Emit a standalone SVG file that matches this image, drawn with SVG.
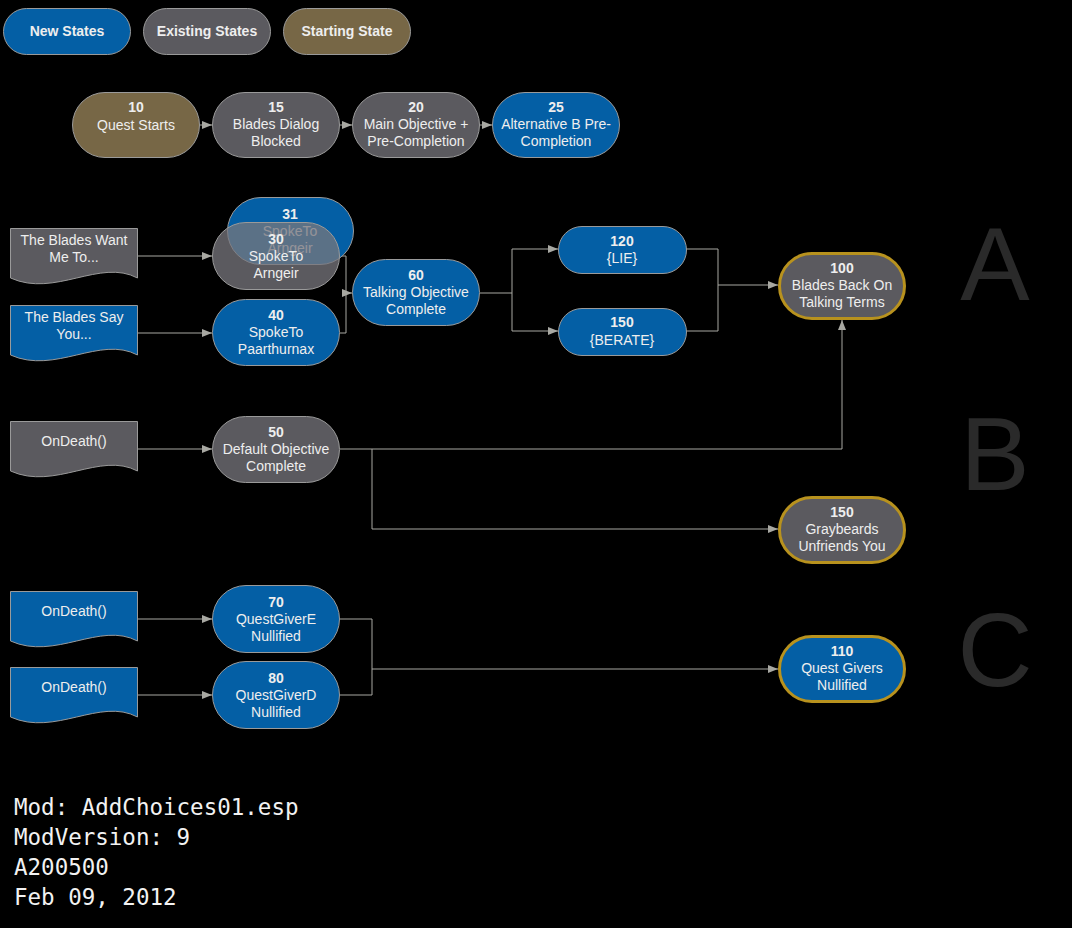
<svg xmlns="http://www.w3.org/2000/svg" width="1072" height="928" viewBox="0 0 1072 928">
<style>
.bg{fill:#000}
.blue{fill:#045FA5;stroke:#9A9A9A;stroke-width:1}
.gray{fill:#5B5A5F;stroke:#9A9A9A;stroke-width:1}
.brown{fill:#776746;stroke:#9A9A9A;stroke-width:1}
.gold{stroke:#B8921E;stroke-width:3}
.t{font-family:"Liberation Sans",Arial,sans-serif;font-size:14px;fill:#EEEEEE;text-anchor:middle}
.b{font-weight:bold}
.conn{fill:none;stroke:#A8A8A2;stroke-width:1}
.big{font-family:"Liberation Sans",Arial,sans-serif;font-size:104px;fill:#2A2A2A;text-anchor:middle}
.mono{font-family:"DejaVu Sans Mono","Liberation Mono",monospace;font-size:22.5px;fill:#F2F2F2}
</style>
<defs>
<marker id="arr" viewBox="0 0 10 8" refX="10" refY="4" markerWidth="10" markerHeight="8" markerUnits="userSpaceOnUse" orient="auto">
<path d="M0,0 L10,4 L0,8 Z" fill="#A8A8A2"/>
</marker>
</defs>
<rect class="bg" x="0" y="0" width="1072" height="928"/>

<g id="legend">
<g id="legend-new"><rect class="blue" x="3.5" y="8.5" width="127" height="46" rx="23"/><text class="t b" x="67" y="36">New States</text></g>
<g id="legend-existing"><rect class="gray" x="143.5" y="8.5" width="127" height="46" rx="23"/><text class="t b" x="207" y="36">Existing States</text></g>
<g id="legend-starting"><rect class="brown" x="283.5" y="8.5" width="127" height="46" rx="23"/><text class="t b" x="347" y="36">Starting State</text></g>
</g>

<g id="connectors">
<path class="conn" d="M200,125 H212" marker-end="url(#arr)"/>
<path class="conn" d="M340,125 H352" marker-end="url(#arr)"/>
<path class="conn" d="M480,125 H492" marker-end="url(#arr)"/>
<path class="conn" d="M138,256 H212" marker-end="url(#arr)"/>
<path class="conn" d="M138,333 H212" marker-end="url(#arr)"/>
<path class="conn" d="M340,256 H346 V293 H352" marker-end="url(#arr)"/>
<path class="conn" d="M340,333 H346 V293"/>
<path class="conn" d="M480,293 H512 V249 H558" marker-end="url(#arr)"/>
<path class="conn" d="M512,293 V331 H558" marker-end="url(#arr)"/>
<path class="conn" d="M686,249 H718 V285 H778" marker-end="url(#arr)"/>
<path class="conn" d="M686,331 H718 V285"/>
<path class="conn" d="M138,449 H212" marker-end="url(#arr)"/>
<path class="conn" d="M340,449 H842 V320" marker-end="url(#arr)"/>
<path class="conn" d="M372,449 V529 H778" marker-end="url(#arr)"/>
<path class="conn" d="M138,619 H212" marker-end="url(#arr)"/>
<path class="conn" d="M138,695 H212" marker-end="url(#arr)"/>
<path class="conn" d="M340,619 H372 V669 H778" marker-end="url(#arr)"/>
<path class="conn" d="M340,695 H372 V669"/>
</g>

<g id="n10"><rect class="brown" x="72.5" y="92.5" width="127" height="65" rx="32.5"/><text class="t b" x="136" y="112">10</text><text class="t" x="136" y="130">Quest Starts</text></g>
<g id="n15"><rect class="gray" x="212.5" y="92.5" width="127" height="65" rx="32.5"/><text class="t b" x="276" y="112">15</text><text class="t" x="276" y="129">Blades Dialog</text><text class="t" x="276" y="146">Blocked</text></g>
<g id="n20"><rect class="gray" x="352.5" y="92.5" width="127" height="65" rx="32.5"/><text class="t b" x="416" y="112">20</text><text class="t" x="416" y="129">Main Objective +</text><text class="t" x="416" y="146">Pre-Completion</text></g>
<g id="n25"><rect class="blue" x="492.5" y="92.5" width="127" height="65" rx="32.5"/><text class="t b" x="556" y="112">25</text><text class="t" x="556" y="129">Alternative B Pre-</text><text class="t" x="556" y="146">Completion</text></g>

<g id="doc-want"><path class="gray" d="M10.5,228.5 H137.5 V278 C100,258 55,298 10.5,278 Z"/><text class="t" x="74" y="245">The Blades Want</text><text class="t" x="74" y="262">Me To...</text></g>
<g id="doc-say"><path class="blue" d="M10.5,305.5 H137.5 V355 C100,335 55,375 10.5,355 Z"/><text class="t" x="74" y="322">The Blades Say</text><text class="t" x="74" y="339">You...</text></g>

<g id="n31"><rect class="blue" x="227.5" y="197.5" width="126" height="67" rx="33.5"/><text class="t b" x="290" y="219">31</text><text class="t" x="290" y="236">SpokeTo</text><text class="t" x="290" y="253">Arngeir</text></g>
<g id="n30"><rect x="212.5" y="222.5" width="127" height="67" rx="33.5" fill="#78767D" fill-opacity="0.76" stroke="#9A9A9A" stroke-width="1"/><text class="t b" x="276" y="244">30</text><text class="t" x="276" y="261">SpokeTo</text><text class="t" x="276" y="278">Arngeir</text></g>
<g id="n40"><rect class="blue" x="212.5" y="299.5" width="127" height="66" rx="33"/><text class="t b" x="276" y="320">40</text><text class="t" x="276" y="337">SpokeTo</text><text class="t" x="276" y="354">Paarthurnax</text></g>
<g id="n60"><rect class="blue" x="352.5" y="259.5" width="127" height="66" rx="33"/><text class="t b" x="416" y="280">60</text><text class="t" x="416" y="297">Talking Objective</text><text class="t" x="416" y="314">Complete</text></g>
<g id="n120"><rect class="blue" x="558.5" y="226.5" width="128" height="47" rx="23.5"/><text class="t b" x="622" y="246">120</text><text class="t" x="622" y="263">{LIE}</text></g>
<g id="n150a"><rect class="blue" x="558.5" y="308.5" width="128" height="47" rx="23.5"/><text class="t b" x="622" y="327">150</text><text class="t" x="622" y="345">{BERATE}</text></g>
<g id="n100"><rect class="gray gold" x="779.5" y="253.5" width="125" height="65" rx="32.5"/><text class="t b" x="842" y="273">100</text><text class="t" x="842" y="290">Blades Back On</text><text class="t" x="842" y="307">Talking Terms</text></g>

<g id="doc-death1"><path class="gray" d="M10.5,421.5 H137.5 V471 C100,451 55,491 10.5,471 Z"/><text class="t" x="74" y="446">OnDeath()</text></g>
<g id="n50"><rect class="gray" x="212.5" y="416.5" width="127" height="66" rx="33"/><text class="t b" x="276" y="437">50</text><text class="t" x="276" y="454">Default Objective</text><text class="t" x="276" y="471">Complete</text></g>
<g id="n150b"><rect class="gray gold" x="779.5" y="497.5" width="125" height="65" rx="32.5"/><text class="t b" x="842" y="517">150</text><text class="t" x="842" y="534">Graybeards</text><text class="t" x="842" y="551">Unfriends You</text></g>

<g id="doc-death2"><path class="blue" d="M10.5,591.5 H137.5 V641 C100,621 55,661 10.5,641 Z"/><text class="t" x="74" y="616">OnDeath()</text></g>
<g id="doc-death3"><path class="blue" d="M10.5,667.5 H137.5 V717 C100,697 55,737 10.5,717 Z"/><text class="t" x="74" y="692">OnDeath()</text></g>
<g id="n70"><rect class="blue" x="212.5" y="585.5" width="127" height="67" rx="33.5"/><text class="t b" x="276" y="607">70</text><text class="t" x="276" y="624">QuestGiverE</text><text class="t" x="276" y="641">Nullified</text></g>
<g id="n80"><rect class="blue" x="212.5" y="661.5" width="127" height="67" rx="33.5"/><text class="t b" x="276" y="683">80</text><text class="t" x="276" y="700">QuestGiverD</text><text class="t" x="276" y="717">Nullified</text></g>
<g id="n110"><rect class="blue gold" x="779.5" y="636.5" width="125" height="65" rx="32.5"/><text class="t b" x="842" y="656">110</text><text class="t" x="842" y="673">Quest Givers</text><text class="t" x="842" y="690">Nullified</text></g>

<g id="section-labels">
<text class="big" x="995" y="300">A</text>
<text class="big" x="995" y="490">B</text>
<text class="big" x="995" y="686">C</text>
</g>

<g id="info">
<text class="mono" x="14" y="815">Mod: AddChoices01.esp</text>
<text class="mono" x="14" y="845">ModVersion: 9</text>
<text class="mono" x="14" y="875">A200500</text>
<text class="mono" x="14" y="905">Feb 09, 2012</text>
</g>
</svg>
